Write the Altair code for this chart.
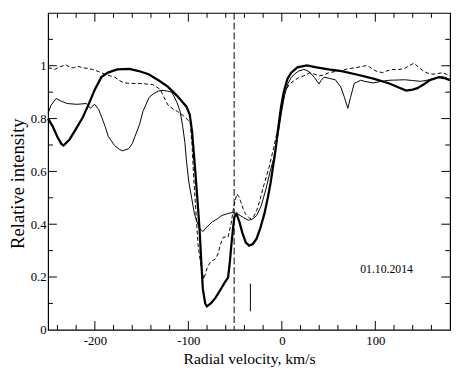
import altair as alt
import pandas as pd

W, H = 411, 324

# thick solid profile
thick_x = [-250, -245, -240, -236, -233.6, -227, -220, -213, -207, -200, -193, -186, -176, -163, -153,
           -142.5, -132, -122, -112, -102, -98.5, -96, -93, -90, -88, -86, -84.5, -82, -80.2, -76,
           -71, -66, -61, -57.5, -55.5, -54, -52, -50.8, -48.4, -45.5, -42.3, -38.5, -35, -31, -27,
           -23, -18.7, -15, -12, -7, -4, -1, 2, 6, 10, 16.7, 26.8, 37, 50, 64, 81, 98, 115, 125,
           133, 140, 145, 152, 158, 168, 175, 180]
thick_y = [0.80, 0.77, 0.73, 0.705, 0.698, 0.721, 0.762, 0.804, 0.851, 0.91, 0.957, 0.974, 0.986, 0.988, 0.98,
           0.968, 0.945, 0.921, 0.886, 0.845, 0.815, 0.75, 0.62, 0.48, 0.38, 0.25, 0.156, 0.10, 0.089, 0.10,
           0.121, 0.15, 0.18, 0.198, 0.26, 0.321, 0.39, 0.427, 0.439, 0.41, 0.368, 0.33, 0.319, 0.325, 0.345,
           0.385, 0.439, 0.50, 0.557, 0.674, 0.76, 0.84, 0.90, 0.95, 0.974, 0.994, 1.001, 0.994, 0.986, 0.98, 0.966, 0.951, 0.933, 0.918,
           0.906, 0.91, 0.915, 0.93, 0.945, 0.957, 0.952, 0.945]

# thin solid profile
thin_x = [-250, -247, -241.4, -236, -229.6, -219.4, -209, -205, -200.2, -196, -192.5, -189, -185.7, -179, -174,
          -170.5, -163.8, -160, -157, -152, -148.6, -142, -137, -131.8, -128.3, -122, -118, -115.6, -112, -108.8,
          -106, -103.7, -102, -99.5, -96.4, -93.5, -91.3, -88, -84.5, -80, -74.4, -69, -64.3, -58, -52.4, -47.4,
          -41, -35.6, -31, -27, -22, -17, -12.5, -8.6, -4, -0.2, 3, 6.6, 10, 13.4, 18, 23.5, 27, 30.2, 35, 39.7,
          42, 45.3, 51, 57.2, 63, 67, 70.6, 73.5, 77.4, 84.2, 90, 97.7, 105, 114.6, 123, 131.4, 140, 148.3, 155,
          161.7, 171.9, 180]
thin_y = [0.82, 0.85, 0.876, 0.866, 0.857, 0.854, 0.857, 0.839, 0.854, 0.835, 0.804, 0.77, 0.733, 0.698, 0.684,
          0.678, 0.686, 0.705, 0.733, 0.78, 0.827, 0.88, 0.895, 0.904, 0.907, 0.904, 0.90, 0.886, 0.86, 0.827,
          0.77, 0.709, 0.64, 0.56, 0.498, 0.44, 0.415, 0.385, 0.372, 0.39, 0.409, 0.42, 0.433, 0.44, 0.445, 0.439,
          0.425, 0.415, 0.42, 0.433, 0.47, 0.533, 0.60, 0.65, 0.74, 0.827, 0.89, 0.933, 0.955, 0.968, 0.98, 0.986, 0.982, 0.974, 0.955, 0.931,
          0.945, 0.957, 0.952, 0.947, 0.92, 0.88, 0.839, 0.88, 0.933, 0.945, 0.94, 0.935, 0.94, 0.945, 0.946, 0.947, 0.944, 0.941, 0.945,
          0.951, 0.959, 0.948]

# dashed profile
dash_x = [-250, -246, -243, -238, -234, -231.3, -227, -222.9, -218, -212.8, -207, -202.6, -196, -189, -184,
          -179, -174, -168.8, -160, -152, -145, -138.5, -134, -130, -126, -121.7, -116, -111.5, -105, -98,
          -96, -94.6, -92, -89.6, -86, -83.5, -79.5, -76, -74.4, -71, -68, -66, -62.6, -57.5, -54.2, -51.4,
          -48.1, -46, -44, -41.5, -39, -34, -30, -27, -23.5, -20.4, -17, -13.7, -8, -4.5, -1.8, 1, 3.2, 8,
          13.4, 18, 23.5, 30.2, 35, 40.3, 45, 50.4, 57, 64, 70, 77.4, 84, 90.9, 94, 97.7, 102, 107.8, 112,
          117.9, 124, 131.4, 136, 141.5, 146, 151.6, 156, 161.7, 166, 171.9, 176, 180]
dash_y = [0.992, 0.99, 0.986, 0.995, 1.0, 1.004, 0.995, 0.992, 0.998, 0.992, 0.99, 0.986, 0.978, 0.968, 0.962,
          0.957, 0.945, 0.935, 0.933, 0.933, 0.931, 0.929, 0.92, 0.91, 0.88, 0.851, 0.835, 0.827, 0.81, 0.786,
          0.70, 0.60, 0.45, 0.321, 0.23, 0.192, 0.239, 0.258, 0.262, 0.268, 0.29, 0.321, 0.351, 0.351, 0.403, 0.468,
          0.515, 0.505, 0.486, 0.46, 0.439, 0.421, 0.43, 0.451, 0.49, 0.533, 0.575, 0.615, 0.70, 0.76, 0.804, 0.86, 0.898, 0.93,
          0.945, 0.955, 0.962, 0.974, 0.968, 0.962, 0.965, 0.974, 0.978, 0.982, 0.988, 0.992, 0.996, 1.001, 0.995, 0.986, 0.978, 0.974, 0.98,
          0.986, 0.985, 0.99, 1.0, 1.01, 0.995, 0.98, 0.972, 0.968, 0.97, 0.974, 0.968, 0.962]

x_major = [-200, -100, 0, 100]
x_minor = [-240, -220, -180, -160, -140, -120, -80, -60, -40, -20, 20, 40, 60, 80, 120, 140, 160]
y_major = [0.2, 0.4, 0.6, 0.8, 1.0]
y_minor = [0.1, 0.3, 0.5, 0.7, 0.9, 1.1]
y_labels = [0, 0.2, 0.4, 0.6, 0.8, 1]

marker_v = [-51]
short_x, short_y1, short_y2 = [-33.6], [0.07], [0.175]
date_x, date_y, date_text = [112], [0.23], ["01.10.2014"]

FONT = "Liberation Serif"
XDOM = [-250, 180]
YDOM = [0, 1.2]
xs = alt.Scale(domain=XDOM, nice=False, zero=False)
ys = alt.Scale(domain=YDOM, nice=False, zero=False)
XT = "Radial velocity, km/s"
YT = "Relative intensity"

xaxis = alt.Axis(values=x_major, ticks=False, tickSize=0, domain=False, grid=False,
                 labelExpr="'' + datum.value", labelFontSize=13, labelPadding=5,
                 title=XT, titleFontSize=16, titlePadding=3)
yaxis = alt.Axis(values=y_labels, ticks=False, tickSize=0, domain=False, grid=False,
                 labelExpr="'' + datum.value", labelFontSize=13, labelPadding=2,
                 title=YT, titleFontSize=19, titlePadding=3, titleY=H / 2 + 12)

def X(field):
    return alt.X(field, scale=xs, axis=xaxis, title=XT)

def Y(field):
    return alt.Y(field, scale=ys, axis=yaxis, title=YT)

def curve(xv, yv, **mk):
    df = pd.DataFrame({"x": xv, "y": yv})
    return alt.Chart(df).mark_line(color="black", **mk).encode(x=X("x:Q"), y=Y("y:Q"))

thin = curve(thin_x, thin_y, strokeWidth=1)
dashed = curve(dash_x, dash_y, strokeWidth=1, strokeDash=[4, 2.5])
thick = curve(thick_x, thick_y, strokeWidth=2.3)

vline = alt.Chart(pd.DataFrame({"x": marker_v})).mark_rule(color="black", strokeWidth=1, strokeDash=[7, 3]).encode(
    x=X("x:Q"))
short = alt.Chart(pd.DataFrame({"x": short_x, "y": short_y1, "y2": short_y2})).mark_rule(color="black", strokeWidth=1).encode(
    x=X("x:Q"), y=Y("y:Q"), y2="y2:Q")
label = alt.Chart(pd.DataFrame({"x": date_x, "y": date_y, "t": date_text})).mark_text(
    font=FONT, fontSize=12, color="black", align="center", baseline="middle").encode(
    x=X("x:Q"), y=Y("y:Q"), text="t:N")

def xticks(vals, ln):
    df = pd.DataFrame({"v": vals})
    base = alt.Chart(df).mark_rule(color="black", strokeWidth=1)
    return [base.encode(x=X("v:Q"), y=alt.value(H), y2=alt.value(H - ln)),
            base.encode(x=X("v:Q"), y=alt.value(0), y2=alt.value(ln))]

def yticks(vals, ln):
    df = pd.DataFrame({"v": vals})
    base = alt.Chart(df).mark_rule(color="black", strokeWidth=1)
    return [base.encode(y=Y("v:Q"), x=alt.value(0), x2=alt.value(ln)),
            base.encode(y=Y("v:Q"), x=alt.value(W), x2=alt.value(W - ln))]

tick_layers = xticks(x_major, 9) + xticks(x_minor, 5) + yticks(y_major, 9) + yticks(y_minor, 5)

chart = alt.layer(thin, dashed, thick, vline, short, label, *tick_layers).properties(
    width=W, height=H, padding={"left": 0, "top": 0, "right": 0, "bottom": 0}
).configure(background="white", font=FONT).configure_view(
    stroke="black", strokeWidth=1.2
).configure_axis(
    labelFont=FONT, titleFont=FONT, labelColor="black", titleColor="black", titleFontWeight="normal"
).configure_text(font=FONT)

chart.save("out.html", embed_options={"renderer": "svg", "actions": False})
